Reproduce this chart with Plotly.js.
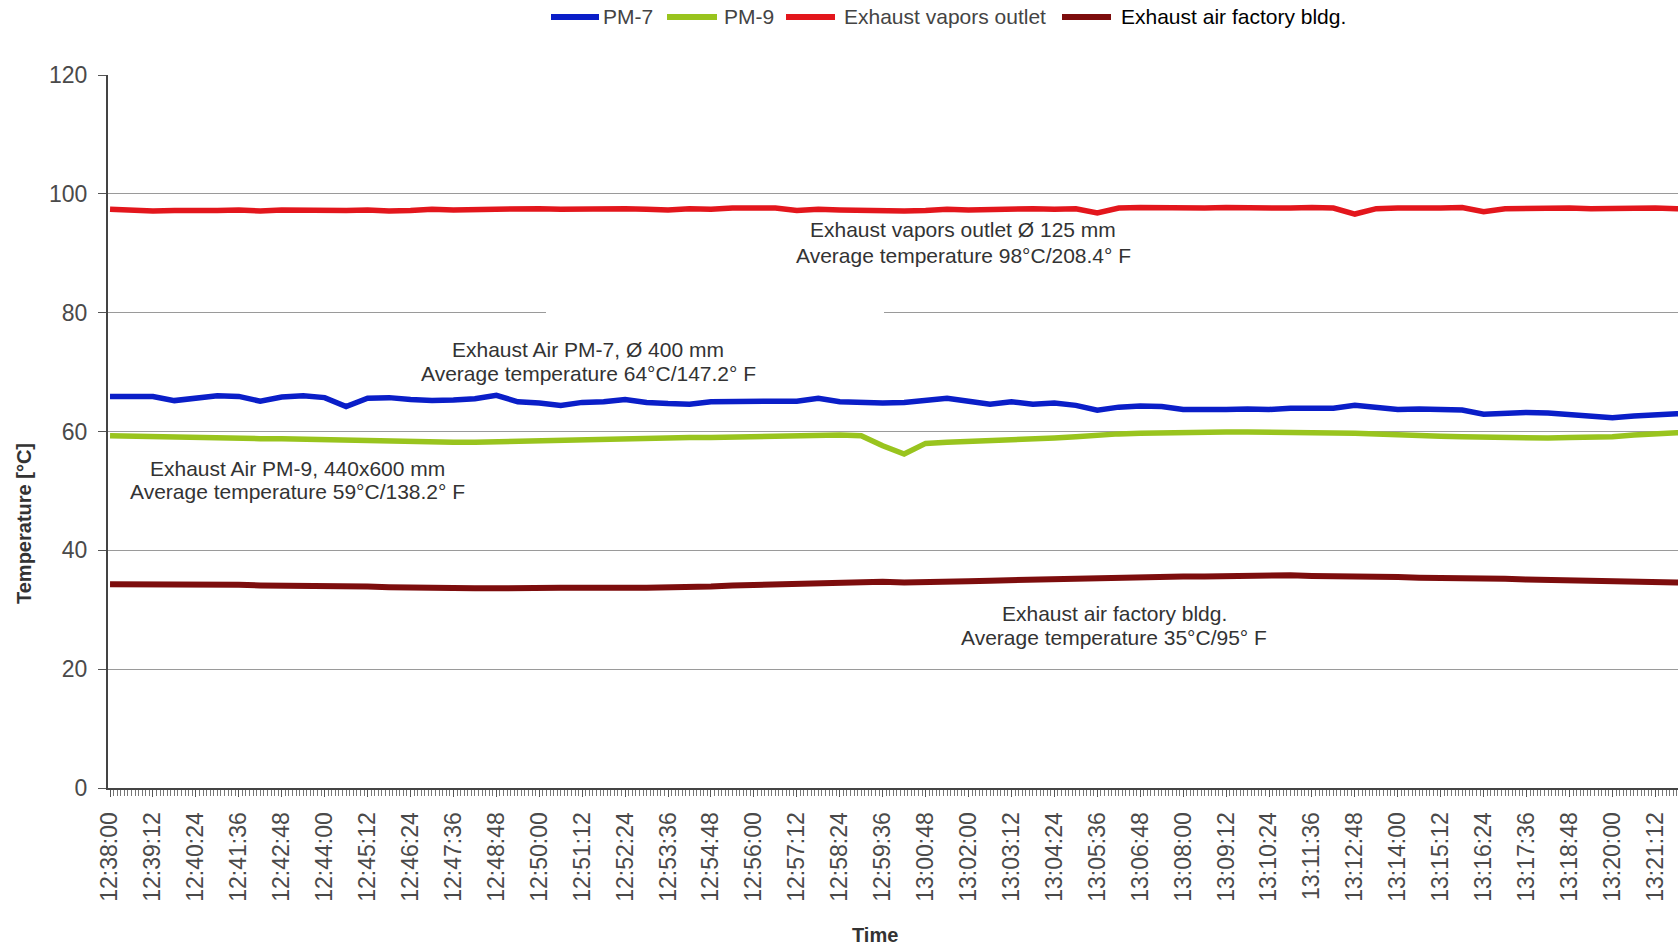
<!DOCTYPE html>
<html>
<head>
<meta charset="utf-8">
<script src="https://cdn.plot.ly/plotly-3.0.1.min.js"></script>
<style>
  html, body { margin: 0; padding: 0; background: #fff; }
  #chart { width: 1678px; height: 948px; }
</style>
</head>
<body>
<div id="chart"></div>
<script>
// Sampling grid: one reading every 36 s starting at 12:38:00
const startTime = '2021-01-01 12:38:00';
const stepSeconds = 36;

const seriesNames = ['PM-7', 'PM-9', 'Exhaust vapors outlet', 'Exhaust air factory bldg.'];
const seriesColors = ['#0a1ec8', '#99c41e', '#e3161c', '#7d0d0d'];

const pm7 = [
  65.9, 65.8, 65.9, 65.2, 65.7, 66.0, 65.9, 65.1, 65.8, 66.0,
  65.7, 64.2, 65.6, 65.7, 65.4, 65.2, 65.3, 65.5, 66.1, 65.0,
  64.8, 64.4, 64.9, 65.0, 65.4, 64.9, 64.7, 64.6, 65.0, 65.1,
  65.0, 65.1, 65.1, 65.6, 65.0, 64.8, 64.8, 64.9, 65.2, 65.6,
  65.1, 64.6, 65.0, 64.6, 64.8, 64.4, 63.6, 64.1, 64.3, 64.2,
  63.7, 63.6, 63.7, 63.8, 63.7, 63.9, 63.8, 63.9, 64.4, 64.0,
  63.7, 63.8, 63.7, 63.6, 62.9, 63.1, 63.2, 63.1, 62.8, 62.6,
  62.3, 62.6, 62.9, 63.0, 63.0
];

const pm9 = [
  59.3, 59.2, 59.1, 59.0, 59.0, 58.9, 58.9, 58.8, 58.8, 58.7,
  58.6, 58.5, 58.4, 58.3, 58.2, 58.2, 58.2, 58.2, 58.3, 58.3,
  58.4, 58.5, 58.6, 58.7, 58.8, 58.8, 58.9, 59.0, 59.0, 59.1,
  59.2, 59.2, 59.3, 59.3, 59.4, 59.3, 57.6, 56.2, 58.0, 58.2,
  58.3, 58.4, 58.5, 58.7, 58.9, 59.1, 59.4, 59.6, 59.7, 59.8,
  59.8, 59.9, 59.9, 59.9, 59.9, 59.9, 59.9, 59.8, 59.7, 59.6,
  59.4, 59.3, 59.2, 59.1, 59.0, 58.9, 58.9, 58.9, 59.0, 59.0,
  59.1, 59.4, 59.7, 59.8, 59.8
];

const vaporsOutlet = [
  97.4, 97.2, 97.1, 97.2, 97.1, 97.2, 97.3, 97.1, 97.3, 97.2,
  97.3, 97.2, 97.3, 97.1, 97.2, 97.4, 97.3, 97.4, 97.3, 97.4,
  97.5, 97.4, 97.5, 97.4, 97.5, 97.4, 97.3, 97.5, 97.4, 97.6,
  97.5, 97.6, 97.2, 97.4, 97.3, 97.2, 97.3, 97.1, 97.2, 97.4,
  97.3, 97.4, 97.3, 97.5, 97.4, 97.5, 96.8, 97.6, 97.7, 97.6,
  97.7, 97.6, 97.7, 97.6, 97.7, 97.6, 97.7, 97.6, 96.6, 97.5,
  97.6, 97.5, 97.6, 97.7, 97.0, 97.5, 97.6, 97.5, 97.6, 97.5,
  97.6, 97.5, 97.6, 97.5, 97.5
];

const factoryBldg = [
  34.3, 34.3, 34.4, 34.3, 34.4, 34.2, 34.2, 34.1, 34.1, 34.0,
  34.0, 33.9, 33.9, 33.8, 33.7, 33.6, 33.6, 33.6, 33.6, 33.7,
  33.6, 33.7, 33.7, 33.6, 33.7, 33.7, 33.7, 33.8, 33.9, 34.1,
  34.2, 34.4, 34.5, 34.6, 34.7, 34.7, 34.7, 34.6, 34.6, 34.7,
  34.8, 34.9, 35.0, 35.0, 35.2, 35.2, 35.3, 35.4, 35.4, 35.5,
  35.6, 35.6, 35.7, 35.7, 35.8, 35.8, 35.7, 35.7, 35.6, 35.6,
  35.5, 35.4, 35.4, 35.3, 35.3, 35.2, 35.1, 35.0, 35.0, 34.9,
  34.8, 34.7, 34.6, 34.6, 34.6
];

// Text blocks placed inside the plot, two lines each
const noteLines = [
  ['Exhaust vapors outlet Ø 125 mm', 'Average temperature 98°C/208.4° F'],
  ['Exhaust Air PM-7, Ø 400 mm', 'Average temperature 64°C/147.2° F'],
  ['Exhaust Air PM-9, 440x600 mm', 'Average temperature 59°C/138.2° F'],
  ['Exhaust air factory bldg.', 'Average temperature 35°C/95° F']
];

const yTitle = 'Temperature [°C]';
const xTitle = 'Time';

// ---- helpers --------------------------------------------------------
function pad(n) { return (n < 10 ? '0' : '') + n; }
function timeAt(i) {
  const base = new Date(startTime.replace(' ', 'T') + 'Z');
  const d = new Date(base.getTime() + i * stepSeconds * 1000);
  return '2021-01-01 ' + pad(d.getUTCHours()) + ':' + pad(d.getUTCMinutes()) + ':' + pad(d.getUTCSeconds());
}
const times = pm7.map((_, i) => timeAt(i));

// page pixel -> paper coordinate for the plot area
const W = 1678, H = 948;
const M = { l: 108, r: 0, t: 75, b: 160 };
const plotW = W - M.l - M.r, plotH = H - M.t - M.b;
const px = x => (x - M.l) / plotW;
const py = y => (H - M.b - y) / plotH;

const FONT = 'Liberation Sans, Arial, Helvetica, sans-serif';

const allSeries = [pm7, pm9, vaporsOutlet, factoryBldg];
const lineWidths = [5.5, 5.5, 5.5, 6];
const traces = allSeries.map((vals, k) => ({
  type: 'scatter',
  mode: 'lines',
  name: seriesNames[k],
  x: times,
  y: vals,
  line: { color: seriesColors[k], width: lineWidths[k], shape: 'linear' },
  hoverinfo: 'skip',
  showlegend: false
}));

// Legend drawn across the top: sample stroke + label
const legendY = py(17);
const legendItems = [
  { x0: 551, x1: 599, tx: 601 },
  { x0: 667, x1: 717, tx: 722 },
  { x0: 786, x1: 835, tx: 842 },
  { x0: 1062, x1: 1111, tx: 1119 }
];
const shapes = [];
const annotations = [];
legendItems.forEach((it, k) => {
  shapes.push({
    type: 'line', xref: 'paper', yref: 'paper',
    x0: px(it.x0), x1: px(it.x1), y0: legendY, y1: legendY,
    line: { color: seriesColors[k], width: 6 }
  });
  annotations.push({
    xref: 'paper', yref: 'paper', x: px(it.tx), y: legendY,
    xanchor: 'left', yanchor: 'middle', showarrow: false,
    text: seriesNames[k],
    font: { family: FONT, size: 21, color: k === 3 ? '#000' : '#444' }
  });
});

// white gap in the 80 °C gridline
shapes.push({
  type: 'rect', xref: 'paper', yref: 'y',
  x0: px(546), x1: px(884), y0: 79, y1: 81,
  fillcolor: '#ffffff', line: { width: 0 }, layer: 'above'
});

// in-plot descriptions (centre x, first line y, second line y) in page pixels
const notePos = [
  [963, 230, 255],
  [588, 349, 373],
  [297, 468, 491],
  [1114, 613, 637]
];
noteLines.forEach((lines, k) => {
  const [cx, y1, y2] = notePos[k];
  [y1, y2].forEach((yy, j) => {
    annotations.push({
      xref: 'paper', yref: 'paper', x: px(cx), y: py(yy),
      xanchor: 'center', yanchor: 'middle', showarrow: false,
      text: lines[j],
      font: { family: FONT, size: 21, color: '#333' }
    });
  });
});

// axis titles
annotations.push({
  xref: 'paper', yref: 'paper', x: px(24), y: py(524),
  xanchor: 'center', yanchor: 'middle', showarrow: false, textangle: -90,
  text: '<b>' + yTitle + '</b>',
  font: { family: FONT, size: 20, color: '#333' }
});
annotations.push({
  xref: 'paper', yref: 'paper', x: px(875), y: py(935),
  xanchor: 'center', yanchor: 'middle', showarrow: false,
  text: '<b>' + xTitle + '</b>',
  font: { family: FONT, size: 20, color: '#333' }
});

const layout = {
  width: W, height: H,
  margin: M,
  paper_bgcolor: '#ffffff',
  plot_bgcolor: '#ffffff',
  showlegend: false,
  font: { family: FONT, color: '#444' },
  xaxis: {
    type: 'date',
    range: ['2021-01-01 12:37:56.6', '2021-01-01 13:21:50'],
    tick0: '2021-01-01 12:38:00',
    dtick: 72000,
    tickformat: '%H:%M:%S',
    tickangle: -90,
    tickfont: { family: FONT, size: 23, color: '#4a4a4a' },
    ticks: 'outside', ticklen: 7, tickcolor: '#555', tickwidth: 1,
    ticklabelstandoff: 6,
    minor: { dtick: 6000, ticks: 'outside', ticklen: 6, tickcolor: '#777', tickwidth: 1, showgrid: false },
    showgrid: false,
    showline: true, linecolor: '#444', linewidth: 2,
    zeroline: false,
    fixedrange: true
  },
  yaxis: {
    range: [0, 120],
    dtick: 20,
    tickfont: { family: FONT, size: 23, color: '#4a4a4a' },
    ticks: 'outside', ticklen: 8, tickcolor: '#555', tickwidth: 1,
    ticklabelstandoff: 6,
    showgrid: true, gridcolor: '#9a9a9a', gridwidth: 1,
    showline: true, linecolor: '#444', linewidth: 2,
    zeroline: false,
    fixedrange: true
  },
  shapes: shapes,
  annotations: annotations
};

Plotly.newPlot('chart', traces, layout, { displayModeBar: false, staticPlot: true });
</script>
</body>
</html>
